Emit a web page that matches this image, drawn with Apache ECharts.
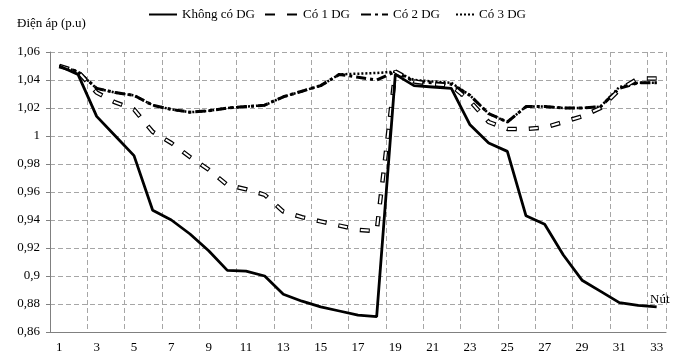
<!DOCTYPE html>
<html>
<head>
<meta charset="utf-8">
<script src="https://cdn.jsdelivr.net/npm/echarts@6/dist/echarts.min.js"></script>
<style>
html,body{margin:0;padding:0;background:#fff;}
#chart{width:675px;height:357px;}
</style>
</head>
<body>
<div id="chart"></div>
<script>
var nodes = ['1','2','3','4','5','6','7','8','9','10','11','12','13','14','15','16','17','18','19','20','21','22','23','24','25','26','27','28','29','30','31','32','33'];
var noDG = [1.050,1.044,1.014,1.000,0.986,0.947,0.940,0.930,0.918,0.904,0.9035,0.900,0.887,0.882,0.878,0.875,0.872,0.871,1.044,1.036,1.035,1.034,1.008,0.995,0.989,0.943,0.937,0.915,0.897,0.889,0.881,0.879,0.878];
var dg1 = [1.050,1.046,1.031,1.024,1.019,1.003,0.995,0.985,0.976,0.965,0.962,0.958,0.946,0.942,0.939,0.936,0.933,0.932,1.046,1.039,1.037,1.036,1.025,1.010,1.005,1.005,1.006,1.010,1.014,1.020,1.033,1.041,1.041];
var dg2 = [1.050,1.046,1.034,1.031,1.029,1.022,1.019,1.017,1.018,1.020,1.021,1.022,1.028,1.032,1.036,1.044,1.042,1.040,1.046,1.039,1.038,1.037,1.029,1.016,1.010,1.021,1.021,1.020,1.020,1.021,1.034,1.038,1.038];
var dg3 = [1.050,1.046,1.034,1.031,1.029,1.022,1.019,1.017,1.018,1.020,1.021,1.022,1.028,1.032,1.036,1.044,1.0445,1.045,1.046,1.040,1.039,1.038,1.029,1.016,1.010,1.021,1.021,1.020,1.020,1.021,1.035,1.038,1.038];
var seriesNames = ['Không có DG','Có 1 DG','Có 2 DG','Có 3 DG'];
var yTitle = 'Điện áp (p.u)';
var xTitle = 'Nút';

var font = 'Liberation Serif';
var chart = echarts.init(document.getElementById('chart'));
function leg(name, left, w) {
  return {
    data: [name], left: left, top: 8, padding: 0, itemWidth: w, itemHeight: 14,
    textStyle: {fontFamily: font, fontSize: 13, color: '#000'},
    itemStyle: {opacity: 0},
    selectedMode: false
  };
}
chart.setOption({
  animation: false,
  color: ['#000', '#000', '#000', '#000', '#000'],
  textStyle: {fontFamily: font},
  legend: [leg(seriesNames[0], 148, 28), leg(seriesNames[1], 264, 33), leg(seriesNames[2], 360, 27), leg(seriesNames[3], 455, 18)],
  grid: {left: 50, top: 52, right: 9, bottom: 25, containLabel: false},
  graphic: [
    {type: 'text', left: 17, top: 17, style: {text: yTitle, font: '13px "Liberation Serif"', fill: '#000'}},
    {type: 'text', left: 650, top: 293, style: {text: xTitle, font: '13px "Liberation Serif"', fill: '#000'}}
  ],
  xAxis: {
    type: 'category', data: nodes, boundaryGap: true,
    axisLine: {lineStyle: {color: '#808080', width: 1}},
    axisTick: {show: false, interval: 1},
    axisLabel: {interval: 1, color: '#000', fontSize: 13, fontFamily: font, margin: 9},
    splitLine: {show: true, interval: 1, lineStyle: {color: '#a6a6a6', type: [5, 3], width: 1}}
  },
  yAxis: {
    type: 'value', min: 0.86, max: 1.06, interval: 0.02,
    axisLine: {show: true, lineStyle: {color: '#808080', width: 1}},
    axisTick: {show: true, length: 4, lineStyle: {color: '#808080'}},
    axisLabel: {color: '#000', fontSize: 13, fontFamily: font, margin: 10,
      formatter: function (v) { return String(parseFloat(v.toFixed(2))).replace('.', ','); }},
    splitLine: {show: true, lineStyle: {color: '#a6a6a6', type: [5, 3], width: 1}}
  },
  series: [
    {name: seriesNames[3], type: 'line', data: dg3, symbol: 'none', z: 2, itemStyle: {color: '#000'},
      lineStyle: {color: '#000', width: 2.5, type: [2, 2], cap: 'butt'}},
    {name: seriesNames[2], type: 'line', data: dg2, symbol: 'none', z: 3, itemStyle: {color: '#000'},
      lineStyle: {color: '#000', width: 3, type: [10, 4, 3, 4]}},
    {name: seriesNames[1], type: 'line', data: dg1, symbol: 'none', z: 4, itemStyle: {color: '#000'},
      lineStyle: {color: '#000', width: 4.5, type: [10, 12]}},
    {name: 'inner', type: 'line', data: dg1, symbol: 'none', z: 5, silent: true, itemStyle: {color: '#fff'},
      lineStyle: {color: '#fff', width: 2, type: [8, 14], dashOffset: -1}},
    {name: seriesNames[0], type: 'line', data: noDG, symbol: 'none', z: 6, itemStyle: {color: '#000'},
      lineStyle: {color: '#000', width: 2.8}}
  ]
});
</script>
</body>
</html>
